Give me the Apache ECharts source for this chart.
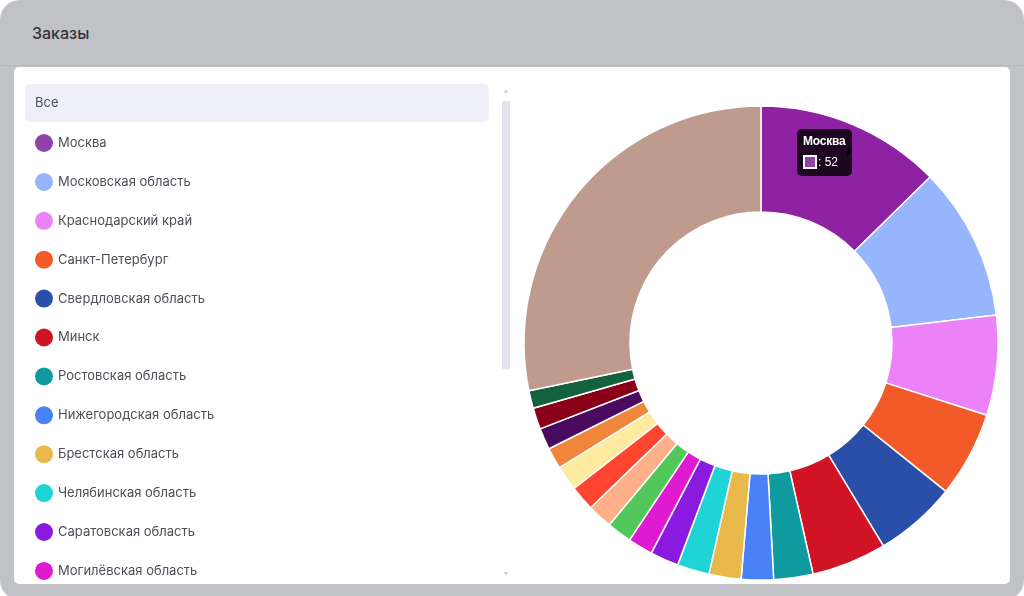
<!DOCTYPE html>
<html>
<head>
<meta charset="utf-8">
<script src="https://cdn.jsdelivr.net/npm/echarts@6/dist/echarts.min.js"></script>
<style>
html,body{margin:0;padding:0;width:1024px;height:596px;overflow:hidden;background:#ffffff;}
#frame{position:absolute;left:0;top:0;width:1024px;height:600px;background:#c1c2c6;border-radius:20px;}
#hline{position:absolute;left:0;top:65px;width:1024px;height:1px;background:#b6b7be;}
#title{position:absolute;left:32px;top:22px;font-family:Inter,"Noto Sans",sans-serif;font-size:16px;font-weight:500;color:#33343a;line-height:22px;}
#card{position:absolute;left:14px;top:67px;width:996px;height:517px;background:#ffffff;border-radius:5px;}
#chart{position:absolute;left:0;top:0;width:1024px;height:596px;}
</style>
</head>
<body>
<div id="frame"></div>
<div id="hline"></div>
<div id="title">Заказы</div>
<div id="card"></div>
<div id="chart"></div>
<script>
const categories = [
  "Москва","Московская область","Краснодарский край","Санкт-Петербург",
  "Свердловская область","Минск","Ростовская область","Нижегородская область",
  "Брестская область","Челябинская область","Саратовская область","Могилёвская область",
  "Гомельская область","Самарская область","Республика Татарстан","Новосибирская область",
  "Витебская область","Гродненская область","Минская область","Красноярский край","Другие"
];
const orders = [52,43,28,24,23,21,11,9,9,9,8,7,7,7,7,7,6,6,6,5,116];
const colors = [
  "#8F22A2","#96B5FC","#EB82F7","#F25A29","#2A4FA8","#D01426","#0F9AA0","#4A80F8",
  "#E8B84A","#1FD4D4","#8A1AE0","#E01AD0","#52C85A","#FFB088","#FF4430","#FFEBA0",
  "#F0863C","#4A0A5E","#8A0018","#14613E","#BF9B8E"
];
const legendColors = ["#9142A6"].concat(colors.slice(1));
const visibleLegendCount = 12;
const allLabel = "Все";

const chart = echarts.init(document.getElementById('chart'), null, {renderer:'canvas'});
const font = 'Inter, "Noto Sans", sans-serif';

const option = {
  animation: false,
  backgroundColor: 'transparent',
  tooltip: {
    trigger: 'item',
    triggerOn: 'none',
    alwaysShowContent: true,
    backgroundColor: 'rgba(0,0,0,0.8)',
    borderWidth: 0,
    padding: [5, 6, 7, 6],
    extraCssText: 'box-shadow:none;border-radius:5px;',
    position: function () { return [797, 129]; },
    formatter: function (p) {
      const c = legendColors[p.dataIndex];
      return '<div style="position:relative;font-family:\'Liberation Sans\',Arial,sans-serif;color:#fff;">' +
        '<div style="font-weight:bold;font-size:12px;line-height:15px;letter-spacing:-0.2px;">' + p.name + '</div>' +
        '<div style="display:flex;align-items:center;margin-top:6px;font-size:12px;line-height:14px;">' +
        '<span style="display:inline-block;width:14px;height:14px;box-sizing:border-box;border:2px solid #fff;background:' + c + ';margin-right:1px;"></span>' +
        '<span>: ' + p.value + '</span></div>' +
        '<div style="position:absolute;right:-11px;top:50%;margin-top:-6px;width:0;height:0;border:5px solid transparent;border-left-color:rgba(0,0,0,0.8);"></div>' +
        '</div>';
    }
  },
  legend: {
    orient: 'vertical',
    left: 35,
    top: 134,
    height: 540,
    padding: 0,
    itemWidth: 18,
    itemHeight: 18,
    itemGap: 20.9,
    icon: 'circle',
    selectedMode: false,
    itemStyle: { borderWidth: 0 },
    textStyle: { fontFamily: font, fontSize: 13, color: '#4d4e57', lineHeight: 18 },
    data: categories.slice(0, visibleLegendCount).map((n, i) => ({ name: n, itemStyle: { color: legendColors[i], borderWidth: 0 } }))
  },
  graphic: [
    { type: 'rect', shape: { x: 25, y: 84, width: 464, height: 38, r: 5 }, style: { fill: '#eeeff8' }, silent: true },
    { type: 'text', x: 35, y: 103, style: { text: allLabel, fontFamily: font, fontSize: 13, fill: '#4d4e57', textVerticalAlign: 'middle' }, silent: true },
    { type: 'rect', shape: { x: 502, y: 101, width: 8, height: 268 }, style: { fill: '#e3e3ed' }, silent: true },
    { type: 'polygon', shape: { points: [[503.5, 93], [508.5, 93], [506, 89.5]] }, style: { fill: '#cfcfd8' }, silent: true },
    { type: 'polygon', shape: { points: [[503.5, 572], [508.5, 572], [506, 575.5]] }, style: { fill: '#cfcfd8' }, silent: true }
  ],
  series: [{
    type: 'pie',
    center: [761, 343],
    radius: [131, 237],
    startAngle: 90,
    clockwise: true,
    avoidLabelOverlap: false,
    label: { show: false },
    labelLine: { show: false },
    emphasis: { disabled: true },
    itemStyle: { borderColor: '#ffffff', borderWidth: 1.5 },
    data: categories.map((n, i) => ({ name: n, value: orders[i], itemStyle: { color: colors[i] } }))
  }]
};
chart.setOption(option);
chart.dispatchAction({ type: 'showTip', seriesIndex: 0, dataIndex: 0 });
</script>
</body>
</html>
